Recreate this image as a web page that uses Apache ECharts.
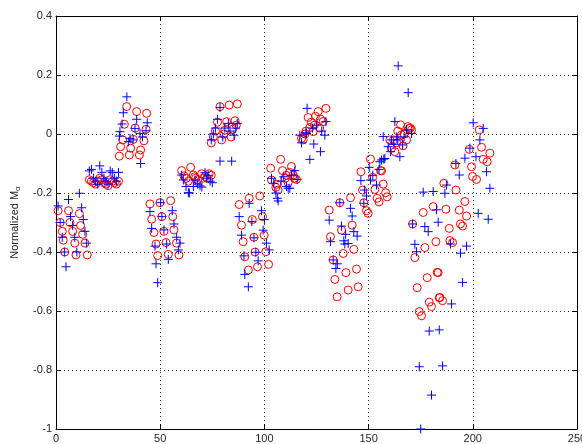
<!DOCTYPE html>
<html>
<head>
<meta charset="utf-8">
<script src="https://cdn.jsdelivr.net/npm/echarts@6/dist/echarts.min.js"></script>
<style>
html,body{margin:0;padding:0;background:#fff;}
#c{width:582px;height:444px;}
</style>
</head>
<body>
<div id="c"></div>
<script>
// ---- data ----
const xTicks = [0, 50, 100, 150, 200, 250];
const yTicks = [-1, -0.8, -0.6, -0.4, -0.2, 0, 0.2, 0.4];
const yLabel = 'Normalized M';
const ySub = 'α';

const redX = [
  1,2,3,3.5,4.2,6,6.7,8,9,9.6,11.2,11.8,12.8,13.9,15,
  16,17,18,19,20,21,22,23,24,25,26,27,28,29,30,
  30.4,31,32,32.8,33.9,35.2,35.8,37.1,38,38.7,40,40.6,42.2,43.2,43.5,
  45.1,45.9,47,48,48.8,49.9,50.8,51.8,52.8,53.9,55,56,56.6,57.8,59,
  60.3,61.4,62.5,63.5,64.6,65.9,66.5,67,68,69.9,70.5,71.5,72.5,73.5,74.5,
  74.5,75.5,76.5,77.5,78.7,79.5,80.5,81,81.9,83.1,84,84.7,85.9,86.5,87,
  87.9,89,89.8,90.6,92.3,92.7,94.2,95,95.5,96.7,97.8,99.1,99.9,100.7,102,
  103,103.4,105.5,106,106.6,107.8,108.7,110,110.5,111.4,112,113,113.8,114.5,115.4,
  117.8,118.6,119.5,120,121,121.8,122.5,123.4,124,124.5,125.8,126.5,127,128.2,129.5,
  131.1,131.7,133,133.8,134.9,136.2,137,137.8,139.1,140.2,141.3,142.1,142.9,144.2,145,
  146.3,147.1,147.7,149,149.8,150.9,151.9,153,154.1,155,155.7,156.2,157,158.2,158.9,
  160.2,161,162,162.6,163.5,164,165.3,165.8,166.5,167,168.2,168.8,169.5,170,170.6,
  171.1,172.2,173.3,174.3,175.4,176.2,177,178.1,179.1,180.2,181,182.3,182.9,183.4,183.9,184.2,185.5,
  186.1,187.1,188.7,189,190.3,191.4,191.9,193.5,194.1,195.1,196.2,197,198.3,199.4,199.9,201.8,203.1,204.2,205,206.9,208.2
];
const redY = [
  -0.26,-0.30,-0.33,-0.36,-0.40,-0.26,-0.30,-0.33,-0.37,-0.41,-0.27,-0.31,-0.34,-0.37,-0.41,
  -0.155,-0.16,-0.165,-0.17,-0.16,-0.15,-0.155,-0.165,-0.17,-0.175,-0.155,-0.16,-0.165,-0.17,-0.16,
  -0.075,-0.043,-0.02,0.033,0.093,-0.071,-0.048,-0.018,0.02,0.076,-0.071,-0.054,-0.023,0.016,0.07,
  -0.237,-0.289,-0.334,-0.373,-0.412,-0.233,-0.28,-0.33,-0.368,-0.408,-0.226,-0.28,-0.325,-0.37,-0.41,
  -0.124,-0.142,-0.15,-0.16,-0.113,-0.139,-0.145,-0.15,-0.155,-0.135,-0.15,-0.144,-0.15,-0.135,-0.14,
  -0.03,-0.01,0.01,0.04,0.093,-0.02,0.0,0.013,0.042,0.098,-0.01,0.016,0.045,0.03,0.102,
  -0.239,-0.309,-0.365,-0.416,-0.461,-0.218,-0.29,-0.35,-0.40,-0.45,-0.21,-0.28,-0.343,-0.399,-0.442,
  -0.116,-0.156,-0.181,-0.17,-0.19,-0.086,-0.124,-0.15,-0.14,-0.165,-0.13,-0.11,-0.139,-0.15,-0.154,
  -0.015,-0.02,0.0,0.01,0.056,0.022,0.04,0.008,0.03,0.06,0.076,0.02,0.05,0.042,0.087,
  -0.258,-0.348,-0.427,-0.493,-0.552,-0.233,-0.326,-0.405,-0.47,-0.529,-0.216,-0.309,-0.391,-0.458,-0.518,
  -0.128,-0.19,-0.233,-0.26,-0.269,-0.085,-0.147,-0.188,-0.218,-0.23,-0.124,-0.125,-0.17,-0.199,-0.213,
  -0.02,-0.048,-0.02,-0.06,-0.03,0.01,0.031,-0.003,-0.04,0.0,-0.02,0.025,0.019,0.02,0.014,
  -0.305,-0.419,-0.521,-0.602,-0.616,-0.266,-0.385,-0.487,-0.57,-0.585,-0.246,-0.365,-0.469,-0.47,-0.555,-0.554,-0.565,
  -0.167,-0.255,-0.32,-0.361,-0.368,-0.105,-0.19,-0.258,-0.305,-0.312,-0.229,-0.278,-0.052,-0.111,-0.144,-0.154,0.014,-0.045,-0.086,-0.094,-0.065
];

const blueX = [
  1,2,3,4,4.8,6,7,8,9,10,11.2,12.3,13.1,13.9,14.7,
  16,17,18,19,20,21,22,23,24,25,26,27,28,29,30,
  30.4,30.7,31.7,32.3,34,34.7,35.5,37.9,38.7,40.3,40.6,41.5,43.2,43.8,37,
  45.1,45.9,47.5,48,48.8,50.2,50.8,51.8,53.1,53.9,55.8,56.6,57.9,58.7,59.5,
  60.3,61.1,62.4,63.5,64,65.9,66.7,68,69.1,70,71.5,72.3,73,74,75,
  74.5,75.5,76.5,77.5,78.7,78.7,80,81,82.7,83.5,84.3,85.4,86.2,87,
  87.9,89,90.2,90.6,92.3,92.7,94,95,95.9,97,98.6,99.4,100,101,102.3,
  103.4,104.5,105.5,106.2,106.6,108,109.3,110.6,111.4,112.2,113,114.6,115.7,
  117,117.8,119.9,120.2,120.5,121.8,123,123.7,125,126.9,127.5,129,129.5,
  131.1,131.7,133,134.3,135,136.2,137,138.1,138.6,139,140.2,141.3,142.1,142.9,144.5,
  146.3,147.7,148,149,150.3,150.9,152,153.8,155,155.4,156.2,157,157.3,157.8,159.4,
  160.5,161,162.1,162.6,163.5,164,164.2,165,166.3,167,168.2,169,170.6,
  171.1,172.2,173,174.3,175,176.2,177,178.6,179.1,180.2,181,182.6,183.4,183.9,185.5,
  186.6,187.4,189.3,189.8,191.9,193.5,194.1,195.1,196.2,197,198.6,200.2,201.5,202.6,203.4,205,206.6,207.4,208.2
];
const blueY = [
  -0.244,-0.30,-0.35,-0.40,-0.45,-0.222,-0.28,-0.31,-0.35,-0.40,-0.201,-0.25,-0.29,-0.33,-0.37,
  -0.125,-0.12,-0.15,-0.16,-0.17,-0.108,-0.13,-0.15,-0.16,-0.17,-0.125,-0.131,-0.15,-0.16,-0.13,
  -0.007,0.008,0.034,0.072,0.126,-0.026,-0.015,0.019,0.05,0.002,-0.10,-0.01,0.011,0.038,-0.02,
  -0.263,-0.32,-0.38,-0.44,-0.504,-0.233,-0.28,-0.325,-0.373,-0.425,-0.26,-0.305,-0.35,-0.393,-0.37,
  -0.139,-0.156,-0.178,-0.199,-0.2,-0.178,-0.156,-0.17,-0.176,-0.18,-0.131,-0.15,-0.14,-0.16,-0.165,
  -0.02,0.0,0.02,0.05,0.09,-0.092,-0.01,0.02,0.036,0.01,-0.092,-0.004,0.02,0.036,
  -0.28,-0.343,-0.413,-0.476,-0.518,-0.235,-0.297,-0.352,-0.401,-0.43,-0.26,-0.326,-0.29,-0.37,-0.393,
  -0.15,-0.167,-0.2,-0.218,-0.227,-0.16,-0.145,-0.178,-0.184,-0.184,-0.14,-0.124,-0.154,
  -0.004,-0.03,0.004,0.002,0.087,-0.086,0.02,-0.034,0.03,-0.06,0.01,-0.004,0.042,
  -0.292,-0.365,-0.427,-0.456,-0.44,-0.233,-0.312,-0.362,-0.373,-0.34,-0.371,-0.252,-0.278,-0.331,-0.346,
  -0.158,-0.235,-0.19,-0.21,-0.113,-0.156,-0.14,-0.173,-0.12,-0.094,-0.088,-0.009,-0.085,-0.083,-0.043,
  -0.06,-0.02,-0.035,0.042,-0.01,-0.02,0.231,-0.077,-0.037,-0.01,0.014,0.14,0.002,
  -0.305,-0.374,-0.399,-0.789,-1.0,-0.197,-0.314,-0.331,-0.668,-0.885,-0.195,-0.257,-0.299,-0.664,-0.786,
  -0.201,-0.173,-0.373,-0.576,-0.1,-0.139,-0.404,-0.503,-0.082,-0.38,-0.048,0.038,-0.077,-0.269,-0.02,0.019,-0.128,-0.289,-0.184
];

// ---- chart ----
const FONT = '"Liberation Sans", Arial, Helvetica, sans-serif';
const redData = redX.map((x, i) => [x, redY[i]]);
const blueData = blueX.map((x, i) => [x, blueY[i]]);

const xMin = xTicks[0], xMax = xTicks[xTicks.length - 1], xInt = xTicks[1] - xTicks[0];
const yMin = yTicks[0], yMax = yTicks[yTicks.length - 1], yInt = 0.2;

const chart = echarts.init(document.getElementById('c'), null, {renderer: 'canvas'});

const axisLineStyle = {show: true, onZero: false, lineStyle: {color: '#000', width: 1}};
const tickStyle = {show: true, inside: true, length: 5, lineStyle: {color: '#000', width: 1}};
const gridLine = {show: true, lineStyle: {color: '#333', width: 1, type: [1, 3]}};

chart.setOption({
  animation: false,
  backgroundColor: '#fff',
  grid: {left: 56, right: 5, top: 16, bottom: 15, containLabel: false, outerBoundsMode: 'none'},
  xAxis: [
    {
      type: 'value', position: 'bottom', min: xMin, max: xMax, interval: xInt,
      axisLine: axisLineStyle, axisTick: tickStyle,
      axisLabel: {color: '#262626', fontSize: 11, margin: 4, fontFamily: FONT, alignMaxLabel: 'center', hideOverlap: false},
      splitLine: gridLine
    },
    {
      type: 'value', position: 'top', min: xMin, max: xMax, interval: xInt,
      axisLine: axisLineStyle, axisTick: tickStyle,
      axisLabel: {show: false}, splitLine: {show: false}
    }
  ],
  yAxis: [
    {
      type: 'value', position: 'left', min: yMin, max: yMax, interval: yInt,
      axisLine: axisLineStyle, axisTick: tickStyle,
      axisLabel: {color: '#262626', fontSize: 11, margin: 4, fontFamily: FONT},
      splitLine: gridLine,
      name: yLabel + '{s|' + ySub + '}',
      nameLocation: 'middle', nameGap: 28,
      nameTextStyle: {
        color: '#262626', fontSize: 11, fontFamily: FONT,
        rich: {s: {fontSize: 8, fontFamily: FONT, color: '#262626', verticalAlign: 'bottom', padding: [6, 0, 0, 0]}}
      }
    },
    {
      type: 'value', position: 'right', min: yMin, max: yMax, interval: yInt,
      axisLine: axisLineStyle, axisTick: tickStyle,
      axisLabel: {show: false}, splitLine: {show: false}
    }
  ],
  series: [
    {
      type: 'scatter', xAxisIndex: 0, yAxisIndex: 0, data: redData,
      symbol: 'circle', symbolSize: 8, clip: false, silent: true,
      itemStyle: {color: 'rgba(0,0,0,0)', borderColor: '#ff0000', borderWidth: 1, opacity: 1}
    },
    {
      type: 'scatter', xAxisIndex: 0, yAxisIndex: 0, data: blueData,
      symbol: 'path://M0,5L10,5M5,0L5,10', symbolSize: 9, clip: false, silent: true,
      itemStyle: {color: 'rgba(0,0,0,0)', borderColor: '#0000ff', borderWidth: 1, opacity: 1}
    }
  ]
});
</script>
</body>
</html>
